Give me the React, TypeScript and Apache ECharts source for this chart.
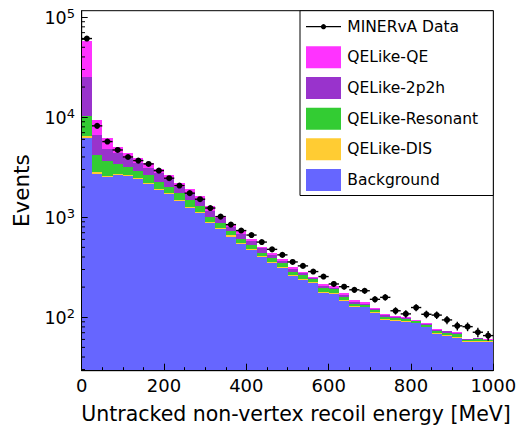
import React, { useEffect, useRef } from "react";
import * as echarts from "echarts";

// ---- data ----
const binLowEdges = [
  0, 25, 50, 75, 100, 125, 150, 175, 200, 225, 250, 275, 300, 325, 350, 375, 400, 425, 450, 475,
  500, 525, 550, 575, 600, 625, 650, 675, 700, 725, 750, 775, 800, 825, 850, 875, 900, 925, 950, 975,
];
const background = [
  6250, 2730, 2550, 2630, 2560, 2400, 2170, 1875, 1700, 1440, 1240, 1110, 871, 762, 640, 540, 467, 402, 352, 310,
  258, 236, 219, 176, 171, 146, 128, 126, 111, 94, 92, 90, 87, 79, 68, 65.5, 62.5, 56.6, 57, 56.6,
];
const qelikeDIS = [
  250, 90, 60, 60, 60, 55, 50, 45, 35, 60, 35, 25, 20, 14, 22, 12, 15, 10, 8, 7,
  4, 6, 5, 3, 4, 4, 2, 2, 2, 1.5, 1.5, 1.5, 1, 1.5, 1.5, 1.2, 1.5, 0.8, 1, 0.7,
];
const qelikeResonant = [
  3800, 1380, 1050, 720, 590, 470, 410, 350, 265, 240, 220, 160, 125, 95, 73, 57, 45, 31, 29, 30,
  24, 23, 16, 19, 15, 11, 6, 5, 4, 6, 4.5, 5, 3, 3, 3.5, 3.5, 3.5, 1.8, 2.2, 1.6,
];
const qelike2p2h = [
  14800, 2450, 1160, 955, 680, 540, 480, 500, 395, 280, 245, 220, 148, 110, 70, 71, 51, 47, 31, 20,
  16, 11, 7, 7, 8, 7, 7, 4, 3, 3.5, 3, 2.5, 1.5, 1.5, 1.8, 1.8, 2, 1, 1.2, 0.9,
];
const qelikeQE = [
  32800, 2750, 1430, 715, 475, 420, 380, 270, 240, 200, 160, 130, 121, 57, 46, 44, 28, 18, 23, 13,
  14, 10, 8, 10, 7, 6, 6, 4, 3, 3, 2, 2, 1.5, 1.6, 1.6, 1.5, 1.8, 1, 1.1, 0.9,
];
const dataValues = [
  61100, 8190, 5700, 4700, 4000, 3680, 3410, 2920, 2455, 2070, 1740, 1514, 1235, 1014, 843, 735, 663, 564, 477, 420,
  357, 326, 286, 255, 215, 202, 188, 184, 151, 158, 116, 108, 125, 107, 105, 94, 82, 80.5, 70.8, 65.5,
];
const dataErrors = [
  220, 80, 68, 62, 57, 55, 53, 49, 45, 41, 38, 35, 32, 29, 26, 25, 23, 21, 20, 18.5,
  17, 16, 15, 14.5, 13, 13, 12.5, 12.3, 11, 11.3, 9.7, 9.4, 10, 9.3, 9.2, 8.7, 8.2, 8, 7.6, 7.3,
];
const yMinorTicks = [
  30, 40, 50, 60, 70, 80, 90,
  200, 300, 400, 500, 600, 700, 800, 900,
  2000, 3000, 4000, 5000, 6000, 7000, 8000, 9000,
  20000, 30000, 40000, 50000, 60000, 70000, 80000, 90000,
];
const legendLabels = ["MINERvA Data", "QELike-QE", "QELike-2p2h", "QELike-Resonant", "QELike-DIS", "Background"];
const seriesNames = ["Background", "QELike-DIS", "QELike-Resonant", "QELike-2p2h", "QELike-QE"];
const seriesColors = ["#6666ff", "#ffcc33", "#33cc33", "#9933cc", "#ff33ff"];
const legendColors = ["#000000", "#ff33ff", "#9933cc", "#33cc33", "#ffcc33", "#6666ff"];

const BIN_WIDTH = 25;
const Y_MIN = 29.2;
const Y_MAX = 116000;
const W = 519;
const H = 431;
const FONT = "'DejaVu Sans', 'Liberation Sans', Arial, sans-serif";

const GRID_LEFT = 81.7;
const GRID_RIGHT = 25.7;
const GRID_TOP = 10.7;
const GRID_BOTTOM = 60.3;

export default function App() {
  const ref = useRef<HTMLDivElement>(null);

  useEffect(() => {
    if (!ref.current) return;
    const chart = echarts.init(ref.current, undefined, { renderer: "svg" });

    const layers = [background, qelikeDIS, qelikeResonant, qelike2p2h, qelikeQE];
    const cum: number[][] = [];
    layers.forEach((arr, k) => {
      cum.push(arr.map((v, i) => v + (k > 0 ? cum[k - 1][i] : 0)));
    });

    // one step-shaped polygon per stacked component
    const histSeries: any[] = layers.map((_, k) => {
      const color = seriesColors[k];
      return {
        type: "custom",
        name: seriesNames[k],
        silent: true,
        clip: true,
        z: 2,
        encode: { x: 0, y: 1 },
        data: [[binLowEdges[0], cum[k][0]]],
        renderItem: (params: any, api: any) => {
          const pts: number[][] = [];
          binLowEdges.forEach((x0, i) => {
            const a = api.coord([x0, cum[k][i]]);
            const b = api.coord([x0 + BIN_WIDTH, cum[k][i]]);
            pts.push([Math.round(a[0]), Math.round(a[1])]);
            pts.push([Math.round(b[0]), Math.round(b[1])]);
          });
          for (let i = binLowEdges.length - 1; i >= 0; i--) {
            const x0 = binLowEdges[i];
            const lo = k === 0 ? Y_MIN : cum[k - 1][i];
            const b = api.coord([x0 + BIN_WIDTH, lo]);
            const a = api.coord([x0, lo]);
            pts.push([Math.round(b[0]), Math.round(b[1])]);
            pts.push([Math.round(a[0]), Math.round(a[1])]);
          }
          return {
            type: "polygon",
            shape: { points: pts },
            style: { fill: color },
          };
        },
      };
    });

    const dataSeries = {
      type: "custom",
      name: "MINERvA Data",
      silent: true,
      z: 5,
      encode: { x: 0, y: 1 },
      data: dataValues.map((v, i) => [binLowEdges[i] + BIN_WIDTH / 2, v]),
      renderItem: (params: any, api: any) => {
        const i = params.dataIndex;
        const xc = binLowEdges[i] + BIN_WIDTH / 2;
        const v = dataValues[i];
        const e = dataErrors[i];
        const pL = api.coord([xc - BIN_WIDTH / 2, v]);
        const pR = api.coord([xc + BIN_WIDTH / 2, v]);
        const pT = api.coord([xc, v + e]);
        const pB = api.coord([xc, v - e]);
        const pC = api.coord([xc, v]);
        return {
          type: "group",
          children: [
            { type: "line", shape: { x1: pL[0], y1: pL[1], x2: pR[0], y2: pR[1] }, style: { stroke: "#000", lineWidth: 1.4 } },
            { type: "line", shape: { x1: pT[0], y1: pT[1], x2: pB[0], y2: pB[1] }, style: { stroke: "#000", lineWidth: 1.4 } },
            { type: "circle", shape: { cx: pC[0], cy: pC[1], r: 3 }, style: { fill: "#000" } },
          ],
        };
      },
    };

    const minorTickSeries = {
      type: "custom",
      name: "yMinorTicks",
      silent: true,
      z: 20,
      clip: false,
      encode: { x: 0, y: 1 },
      data: yMinorTicks.map((v) => [0, v]),
      renderItem: (params: any, api: any) => {
        const p = api.coord([0, yMinorTicks[params.dataIndex]]);
        return {
          type: "line",
          shape: { x1: p[0], y1: p[1], x2: p[0] + 3.3, y2: p[1] },
          style: { stroke: "#000", lineWidth: 1 },
        };
      },
    };

    // legend as graphic
    const LEG_X = 300;
    const LEG_Y = 10.7;
    const LEG_W = W - GRID_RIGHT - LEG_X;
    const LEG_H = 184.8;
    const rowY0 = 26.7;
    const rowStep = 30.65;
    const swX = 306;
    const swW = 35;
    const swH = 22;
    const textX = 347.3;
    const legendChildren: any[] = [
      {
        type: "rect",
        shape: { x: LEG_X, y: LEG_Y, width: LEG_W, height: LEG_H },
        style: { fill: "#fff", stroke: "#000", lineWidth: 1 },
      },
    ];
    legendLabels.forEach((label, k) => {
      const cy = rowY0 + rowStep * k;
      if (k === 0) {
        legendChildren.push({
          type: "line",
          shape: { x1: swX, y1: cy, x2: swX + swW, y2: cy },
          style: { stroke: "#000", lineWidth: 1.3 },
        });
        legendChildren.push({
          type: "circle",
          shape: { cx: swX + swW / 2, cy, r: 2.6 },
          style: { fill: "#000" },
        });
      } else {
        legendChildren.push({
          type: "rect",
          shape: { x: swX, y: cy - swH / 2, width: swW, height: swH },
          style: { fill: legendColors[k] },
        });
      }
      legendChildren.push({
        type: "text",
        x: textX,
        y: cy,
        style: {
          text: label,
          fill: "#000",
          font: `15.5px ${FONT}`,
          verticalAlign: "middle",
          align: "left",
        },
      });
    });

    chart.setOption({
      animation: false,
      backgroundColor: "#fff",
      grid: {
        left: GRID_LEFT,
        right: GRID_RIGHT,
        top: GRID_TOP,
        bottom: GRID_BOTTOM,
        containLabel: false,
        outerBoundsMode: "none",
        show: true,
        borderColor: "#000",
        borderWidth: 1,
        backgroundColor: "transparent",
      },
      xAxis: {
        type: "value",
        min: 0,
        max: 1000,
        interval: 200,
        z: 10,
        name: "Untracked non-vertex recoil energy [MeV]",
        nameLocation: "middle",
        nameGap: 33,
        nameTextStyle: { fontSize: 20.5, color: "#000", fontFamily: FONT, padding: [0, 0, 0, 17] },
        axisLine: { lineStyle: { color: "#000", width: 1 } },
        axisTick: { inside: true, length: 7, lineStyle: { color: "#000", width: 1 } },
        minorTick: { show: true, splitNumber: 4, length: 3.5, lineStyle: { color: "#000", width: 1 } },
        splitLine: { show: false },
        axisLabel: {
          fontSize: 18,
          color: "#000",
          fontFamily: FONT,
          margin: 6,
          formatter: (v: number) => String(v),
        },
      },
      yAxis: {
        type: "log",
        logBase: 10,
        min: Y_MIN,
        max: Y_MAX,
        z: 10,
        name: "Events",
        nameLocation: "middle",
        nameGap: 49,
        nameTextStyle: { fontSize: 21.5, color: "#000", fontFamily: FONT },
        axisLine: { lineStyle: { color: "#000", width: 1 } },
        axisTick: { inside: true, length: 6, lineStyle: { color: "#000", width: 1 } },
        splitLine: { show: false },
        axisLabel: {
          showMinLabel: false,
          showMaxLabel: false,
          margin: 6.7,
          color: "#000",
          fontFamily: FONT,
          formatter: (v: number) => `{b|10}{s|${Math.round(Math.log10(v))}}`,
          rich: {
            b: { fontSize: 17.5, lineHeight: 20, fontFamily: FONT, color: "#000", verticalAlign: "bottom" },
            s: { fontSize: 13, lineHeight: 12, fontFamily: FONT, color: "#000", verticalAlign: "top" },
          },
        },
      },
      series: [...histSeries, dataSeries, minorTickSeries],
      graphic: [{ type: "group", z: 100, children: legendChildren }],
    });

    return () => chart.dispose();
  }, []);

  return (
    <div style={{ position: "fixed", left: 0, top: 0, width: W, height: H, overflow: "hidden", background: "#fff" }}>
      <div ref={ref} style={{ width: W, height: H }} />
    </div>
  );
}
